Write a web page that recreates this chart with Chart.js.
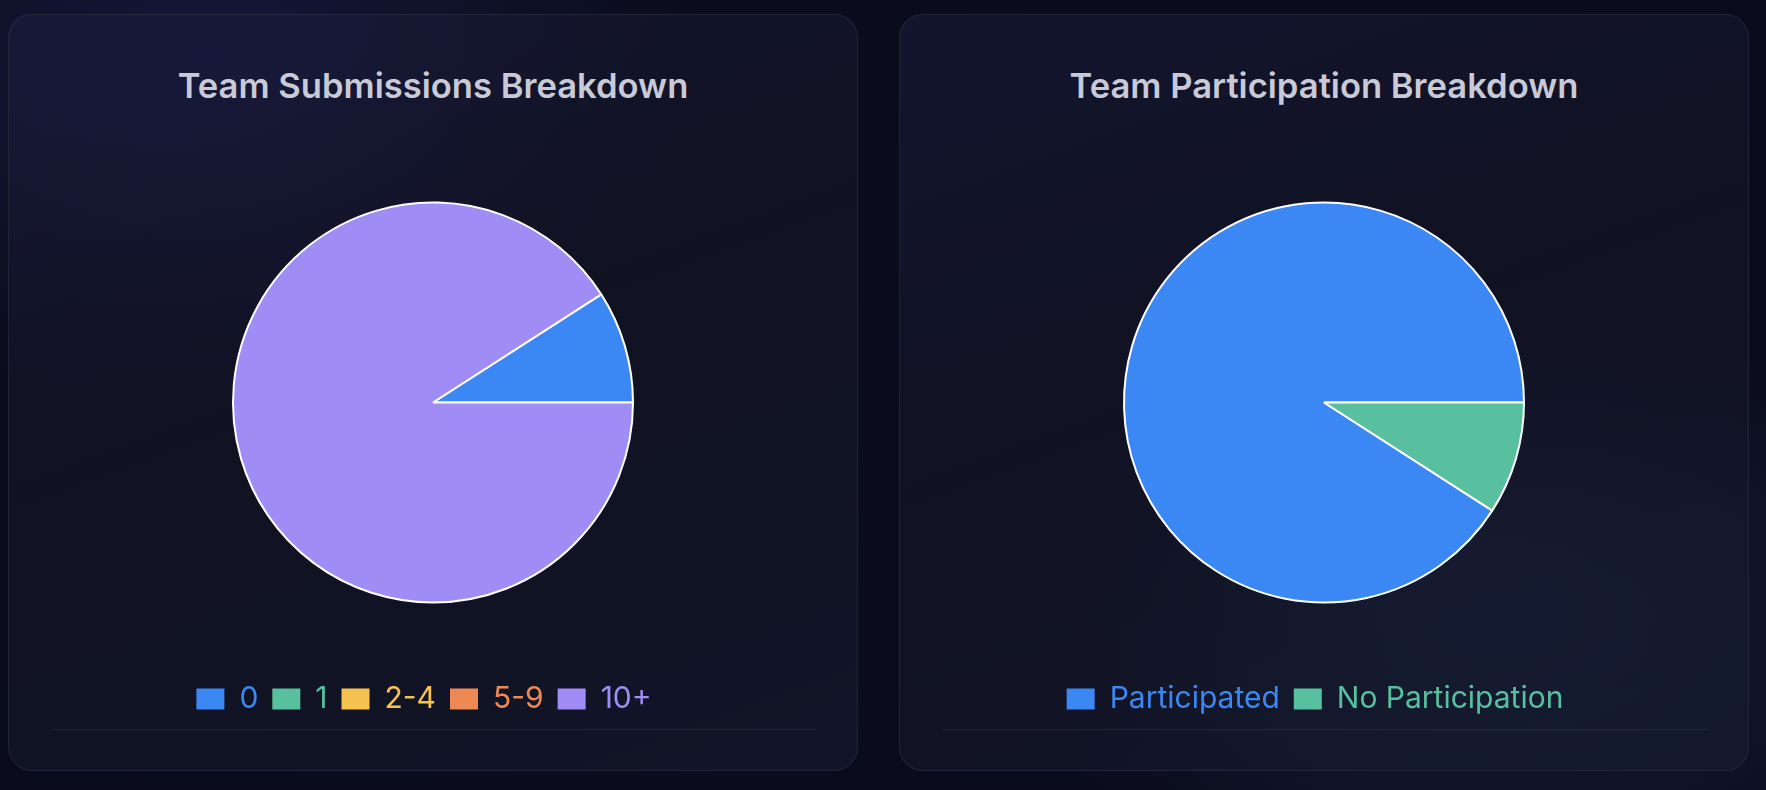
<!DOCTYPE html>
<html>
<head>
<meta charset="utf-8">
<title>Team Breakdown</title>
<script src="https://cdn.jsdelivr.net/npm/chart.js@4.4.1/dist/chart.umd.min.js"></script>
<style>
  html, body {
    margin: 0;
    width: 1766px;
    height: 790px;
    overflow: hidden;
  }
  body {
    background:
      radial-gradient(ellipse 700px 500px at 12% 8%, rgba(38, 46, 120, 0.32), transparent 70%),
      radial-gradient(ellipse 700px 450px at 85% 78%, rgba(40, 72, 120, 0.30), transparent 70%),
      #0b0c1b;
    font-family: Inter, "Noto Sans", sans-serif;
  }
  .card {
    position: absolute;
    top: 14px;
    width: 850px;
    height: 757px;
    box-sizing: border-box;
    border-radius: 24px;
    border: 1px solid rgba(255, 255, 255, 0.07);
    background: linear-gradient(160deg, rgba(28, 30, 64, 0.55) 0%, rgba(22, 22, 38, 0.55) 45%, rgba(24, 30, 50, 0.55) 100%);
  }
  .card h3 {
    position: absolute;
    left: 0;
    right: 0;
    top: 53px;
    margin: 0;
    text-align: center;
    font-size: 34.6px;
    line-height: 34px;
    font-weight: 600;
    color: #c8cad8;
  }
  .chart-box {
    position: absolute;
    left: 42px;
    width: 764px;
    top: 120px;
    height: 589px;
  }
  .divider {
    position: absolute;
    left: 43px;
    width: 764px;
    top: 714px;
    border-top: 1px solid rgba(255, 255, 255, 0.07);
  }
</style>
</head>
<body>
  <div class="card" style="left: 8px;">
    <h3>Team Submissions Breakdown</h3>
    <div class="chart-box"><canvas id="submissionsChart"></canvas></div>
    <div class="divider"></div>
  </div>
  <div class="card" style="left: 899px;">
    <h3>Team Participation Breakdown</h3>
    <div class="chart-box"><canvas id="participationChart"></canvas></div>
    <div class="divider"></div>
  </div>

<script>
  // submissions per team
  const submissionLabels = ["0", "1", "2-4", "5-9", "10+"];
  const submissionCounts = [1, 0, 0, 0, 10];
  const submissionColors = ["#3b88f5", "#58c09f", "#f6c350", "#ef8954", "#a08cf5"];

  // participation
  const participationLabels = ["Participated", "No Participation"];
  const participationCounts = [10, 1];
  const participationColors = ["#3b88f5", "#58c09f"];

  Chart.defaults.font.family = "Inter, 'Noto Sans', sans-serif";

  // the source legend sits a little left of the pie centre
  const legendNudge = {
    id: "legendNudge",
    afterLayout(chart) {
      if (!chart.legend) return;
      chart.legend.left -= 9;
      chart.legend.right -= 9;
    },
  };

  function makePie(canvasId, labels, values, colors) {
    const total = values.reduce((sum, v) => sum + v, 0);
    // slices run counter-clockwise from 3 o'clock in the source
    const firstAngle = (values[0] / total) * 360;

    return new Chart(document.getElementById(canvasId), {
      type: "pie",
      data: {
        labels: labels,
        datasets: [
          {
            data: values,
            backgroundColor: colors,
            borderColor: "#ffffff",
            borderWidth: 2,
            radius: 200,
          },
        ],
      },
      plugins: [legendNudge],
      options: {
        responsive: true,
        maintainAspectRatio: false,
        animation: false,
        rotation: 90 - firstAngle,
        plugins: {
          tooltip: { enabled: false },
          legend: {
            position: "bottom",
            labels: {
              boxWidth: 28,
              boxHeight: 21,
              padding: 14,
              font: { size: 30 },
              generateLabels: (chart) => {
                const items = Chart.overrides.pie.plugins.legend.labels.generateLabels(chart);
                return items.map((item) => ({
                  ...item,
                  fontColor: colors[item.index],
                  lineWidth: 0,
                  strokeStyle: "transparent",
                }));
              },
            },
          },
        },
      },
    });
  }

  makePie("submissionsChart", submissionLabels, submissionCounts, submissionColors);
  makePie("participationChart", participationLabels, participationCounts, participationColors);
</script>
</body>
</html>
